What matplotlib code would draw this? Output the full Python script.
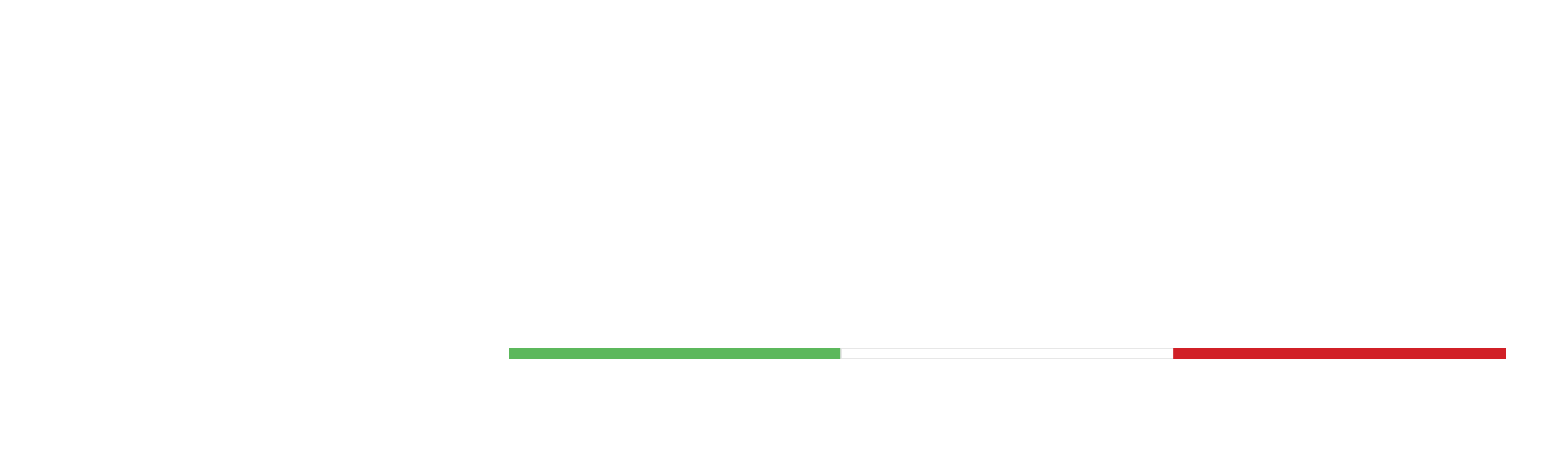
import matplotlib
matplotlib.use("Agg")
import matplotlib.pyplot as plt

# three equal segments of the bar
segments = ["positive", "neutral", "negative"]
values = [1, 1, 1]
colors = ["#5cb85c", "#ffffff", "#d12027"]
edges = ["#5cb85c", "#e3e3e3", "#d12027"]

fig = plt.figure(figsize=(15.54, 4.66), dpi=100)
fig.patch.set_facecolor("white")
ax = fig.add_axes([509 / 1554, 1 - 359 / 466, 997 / 1554, 11 / 466])

left = 0
for name, v, c, e in zip(segments, values, colors, edges):
    ax.barh(0, v, left=left, height=1, color=c, edgecolor=e, linewidth=1.2)
    left += v

ax.set_xlim(0, sum(values))
ax.set_ylim(-0.5, 0.5)
ax.axis("off")

fig.savefig("out.png", dpi=100, facecolor="white")
